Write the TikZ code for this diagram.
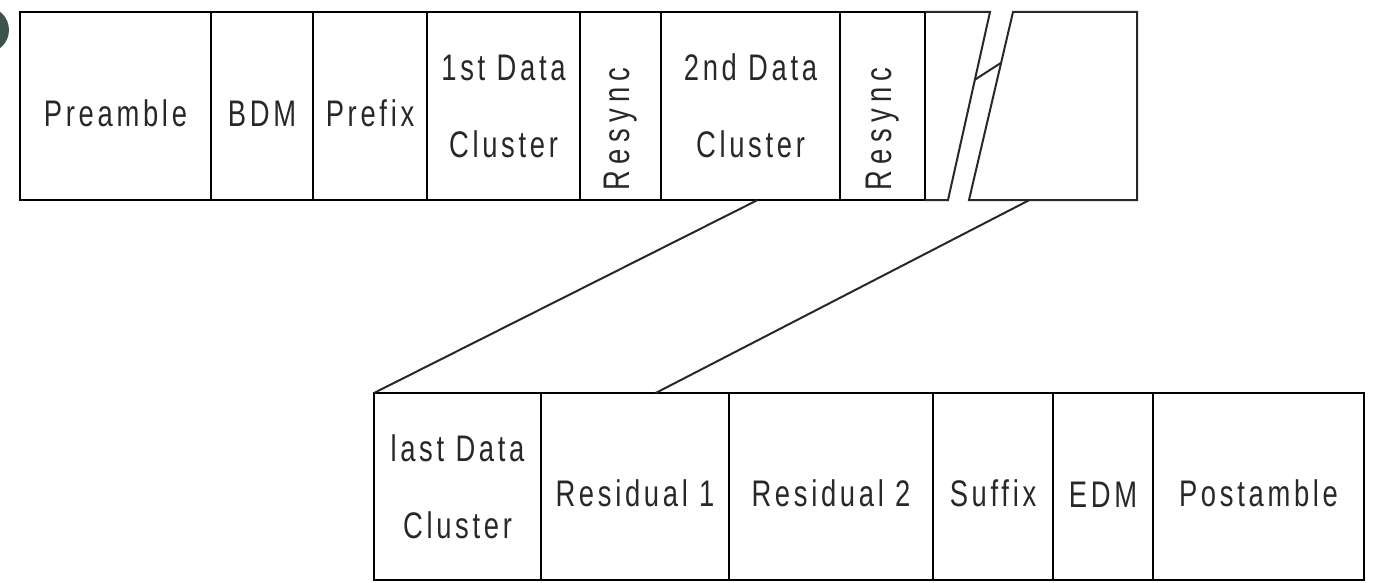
\documentclass[tikz,border=0pt]{standalone}
\usepackage{fontspec}
\setmainfont{Liberation Sans}[FakeStretch=0.74,LetterSpace=10]
\usepackage{graphicx}
\usepackage{tikz}
\usetikzlibrary{matrix,calc}

\definecolor{inkgray}{RGB}{40,40,40}
\definecolor{holegray}{RGB}{60,85,75}

\newcommand{\vtext}[1]{\raisebox{-64pt}[0pt][0pt]{\rotatebox{90}{\addfontfeature{LetterSpace=17}#1}}}

\begin{document}
\begin{tikzpicture}[x=1pt,y=-1pt, line width=2pt, color=inkgray,
    field/.style={rectangle, draw, inner sep=0pt, outer sep=0pt, align=center,
        font=\fontsize{37}{77}\selectfont,
        execute at begin node={\rule{0pt}{41pt}}}]
    \useasboundingbox (0,0) rectangle (1376,583);
    \fill[holegray] (-14,30) circle (23);

    \matrix (top) [anchor=north west, inner sep=0pt, outer sep=0pt, column sep=-2pt,
        nodes={field, minimum height=188pt}] at (19,11) {
        \node[minimum width=191pt] (pre) {Preamble}; &
        \node[minimum width=102pt] (bdm) {BDM}; &
        \node[minimum width=114pt] (pfx) {Prefix}; &
        \node[minimum width=153pt] (dc1) {1st Data\\Cluster}; &
        \node[minimum width=81pt] (rs1) {\vtext{Resync}}; &
        \node[minimum width=179pt] (dc2) {2nd Data\\Cluster}; &
        \node[minimum width=85pt] (rs2) {\vtext{Resync}}; \\
    };

    \matrix (bot) [anchor=north west, inner sep=0pt, outer sep=0pt, column sep=-2pt,
        nodes={field, minimum height=187pt}] at (373,392) {
        \node[minimum width=167pt] (lastdc) {last Data\\Cluster}; &
        \node[minimum width=188pt] (res1) {Residual 1}; &
        \node[minimum width=204pt] (res2) {Residual 2}; &
        \node[minimum width=120pt] (sfx) {Suffix}; &
        \node[minimum width=100pt] (edm) {EDM}; &
        \node[minimum width=211pt] (post) {Postamble}; \\
    };

    % broken end of the first row
    \coordinate (cut1t) at (990,12);
    \coordinate (cut1b) at (948,200);
    \coordinate (cut2t) at (1013,12);
    \coordinate (cut2b) at (969,200);
    \coordinate (endne) at (1137,12);
    \coordinate (endse) at (1137,200);
    \draw (rs2.north east) -- (cut1t) -- (cut1b) -- (rs2.south east);
    \draw (cut2t) -- (endne) -- (endse) -- (cut2b) -- cycle;
    \draw ($(cut1t)!0.36!(cut1b)$) -- ($(cut2t)!0.27!(cut2b)$);

    % zoom lines
    \draw (lastdc.north west) -- ($(dc2.south west)!0.54!(dc2.south east)$);
    \draw ($(res1.north west)!0.61!(res1.north east)$) -- ($(cut2b)!0.36!(endse)$);
\end{tikzpicture}
\end{document}
